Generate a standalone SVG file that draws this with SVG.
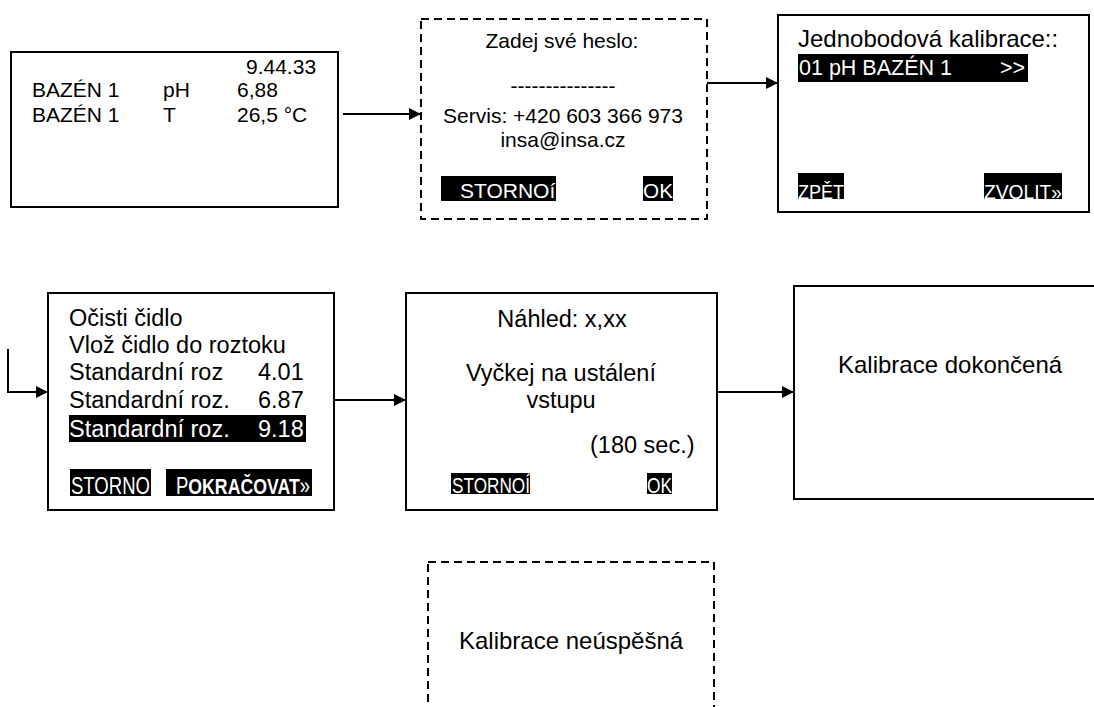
<svg xmlns="http://www.w3.org/2000/svg" width="1094" height="707" viewBox="0 0 1094 707">
<defs>
<marker id="arr" viewBox="0 0 12 12" refX="12" refY="6" markerWidth="12" markerHeight="12" markerUnits="userSpaceOnUse" orient="auto">
<path d="M0,0 L12,6 L0,12 z" fill="#000"/>
</marker>
<style>
.box{fill:#fff;stroke:#000;stroke-width:2}
.dash{fill:#fff;stroke:#000;stroke-width:2;stroke-dasharray:8 5}
text{font-family:"Liberation Sans",Arial,sans-serif;fill:#000}
.w{fill:#fff}
.blk{fill:#000}
.c{text-anchor:middle}
.con{fill:none;stroke:#000;stroke-width:2;marker-end:url(#arr)}
</style>
</defs>
<rect width="1094" height="707" fill="#fff"/>

<g id="connectors">
<line class="con" x1="343" y1="114" x2="421" y2="114"/>
<line class="con" x1="707" y1="83" x2="778" y2="83"/>
<path class="con" d="M8,349 V392 H48"/>
<line class="con" x1="329" y1="400" x2="406" y2="400"/>
<line class="con" x1="717" y1="392" x2="794" y2="392"/>
</g>

<g id="node-main">
<rect class="box" x="11" y="52" width="327" height="155"/>
<text x="246" y="74" font-size="21">9.44.33</text>
<text x="32" y="97" font-size="21">BAZÉN 1</text>
<text x="163" y="97" font-size="21">pH</text>
<text x="237" y="97" font-size="21">6,88</text>
<text x="32" y="122" font-size="21">BAZÉN 1</text>
<text x="163" y="122" font-size="21">T</text>
<text x="237" y="122" font-size="21">26,5 °C</text>
</g>

<g id="node-password">
<rect class="dash" x="421" y="19" width="286" height="200"/>
<text class="c" x="562" y="48" font-size="21">Zadej své heslo:</text>
<text class="c" x="563" y="93" font-size="21">---------------</text>
<text class="c" x="563" y="123" font-size="21">Servis: +420 603 366 973</text>
<text class="c" x="563" y="147" font-size="21">insa@insa.cz</text>
<rect class="blk" x="441" y="176" width="115" height="25"/>
<text class="w" x="460" y="198" font-size="21">STORNOí</text>
<rect class="blk" x="643" y="176" width="30" height="25"/>
<text class="w" x="643" y="198" font-size="21" textLength="30" lengthAdjust="spacingAndGlyphs">OK</text>
</g>

<g id="node-select">
<rect class="box" x="778" y="15" width="311" height="197"/>
<text x="798" y="47" font-size="24">Jednobodová kalibrace::</text>
<rect class="blk" x="798" y="54" width="230" height="28"/>
<text class="w" x="799" y="75" font-size="21.5">01 pH BAZÉN 1</text>
<text class="w" x="1000" y="75" font-size="21.5">&gt;&gt;</text>
<rect class="blk" x="798" y="173" width="46" height="26"/>
<text class="w" x="798" y="199" font-size="21" textLength="46" lengthAdjust="spacingAndGlyphs">ZPĚT</text>
<rect class="blk" x="984" y="173" width="78" height="26"/>
<text class="w" x="984" y="199" font-size="21" textLength="78" lengthAdjust="spacingAndGlyphs">ZVOLIT»</text>
</g>

<g id="node-standards">
<rect class="box" x="48" y="293" width="286" height="217"/>
<text x="69" y="326" font-size="23.5">Očisti čidlo</text>
<text x="69" y="353" font-size="23.5">Vlož čidlo do roztoku</text>
<text x="69" y="380" font-size="23.5">Standardní roz</text>
<text x="258" y="380" font-size="23.5">4.01</text>
<text x="69" y="408" font-size="23.5">Standardní roz.</text>
<text x="258" y="408" font-size="23.5">6.87</text>
<rect class="blk" x="69" y="415" width="237" height="27"/>
<text class="w" x="69" y="437" font-size="23.5">Standardní roz.</text>
<text class="w" x="258" y="437" font-size="23.5">9.18</text>
<rect class="blk" x="70" y="469" width="81" height="27"/>
<text class="w" x="71" y="494" font-size="24" textLength="79" lengthAdjust="spacingAndGlyphs">STORNO</text>
<rect class="blk" x="166" y="469" width="146" height="27"/>
<text class="w" x="176" y="494" font-size="23" textLength="134" lengthAdjust="spacingAndGlyphs">P<tspan font-weight="bold" font-size="22">OKRAČOVAT</tspan>»</text>
</g>

<g id="node-preview">
<rect class="box" x="406" y="293" width="311" height="217"/>
<text class="c" x="562" y="327" font-size="23.5">Náhled: x,xx</text>
<text class="c" x="561" y="381" font-size="23.5">Vyčkej na ustálení</text>
<text class="c" x="561" y="408" font-size="23.5">vstupu</text>
<text x="590" y="453" font-size="23.5">(180 sec.)</text>
<rect class="blk" x="451" y="473" width="79" height="21"/>
<text class="w" x="452" y="493" font-size="22" textLength="78" lengthAdjust="spacingAndGlyphs">STORNOÍ</text>
<rect class="blk" x="647" y="473" width="25" height="21"/>
<text class="w" x="647" y="493" font-size="22" textLength="25" lengthAdjust="spacingAndGlyphs">OK</text>
</g>

<g id="node-done">
<rect class="box" x="794" y="286" width="320" height="213"/>
<text x="838" y="373" font-size="24">Kalibrace dokončená</text>
</g>

<g id="node-failed">
<rect class="dash" x="428" y="562" width="286" height="200"/>
<text x="459" y="649" font-size="24">Kalibrace neúspěšná</text>
</g>
</svg>
